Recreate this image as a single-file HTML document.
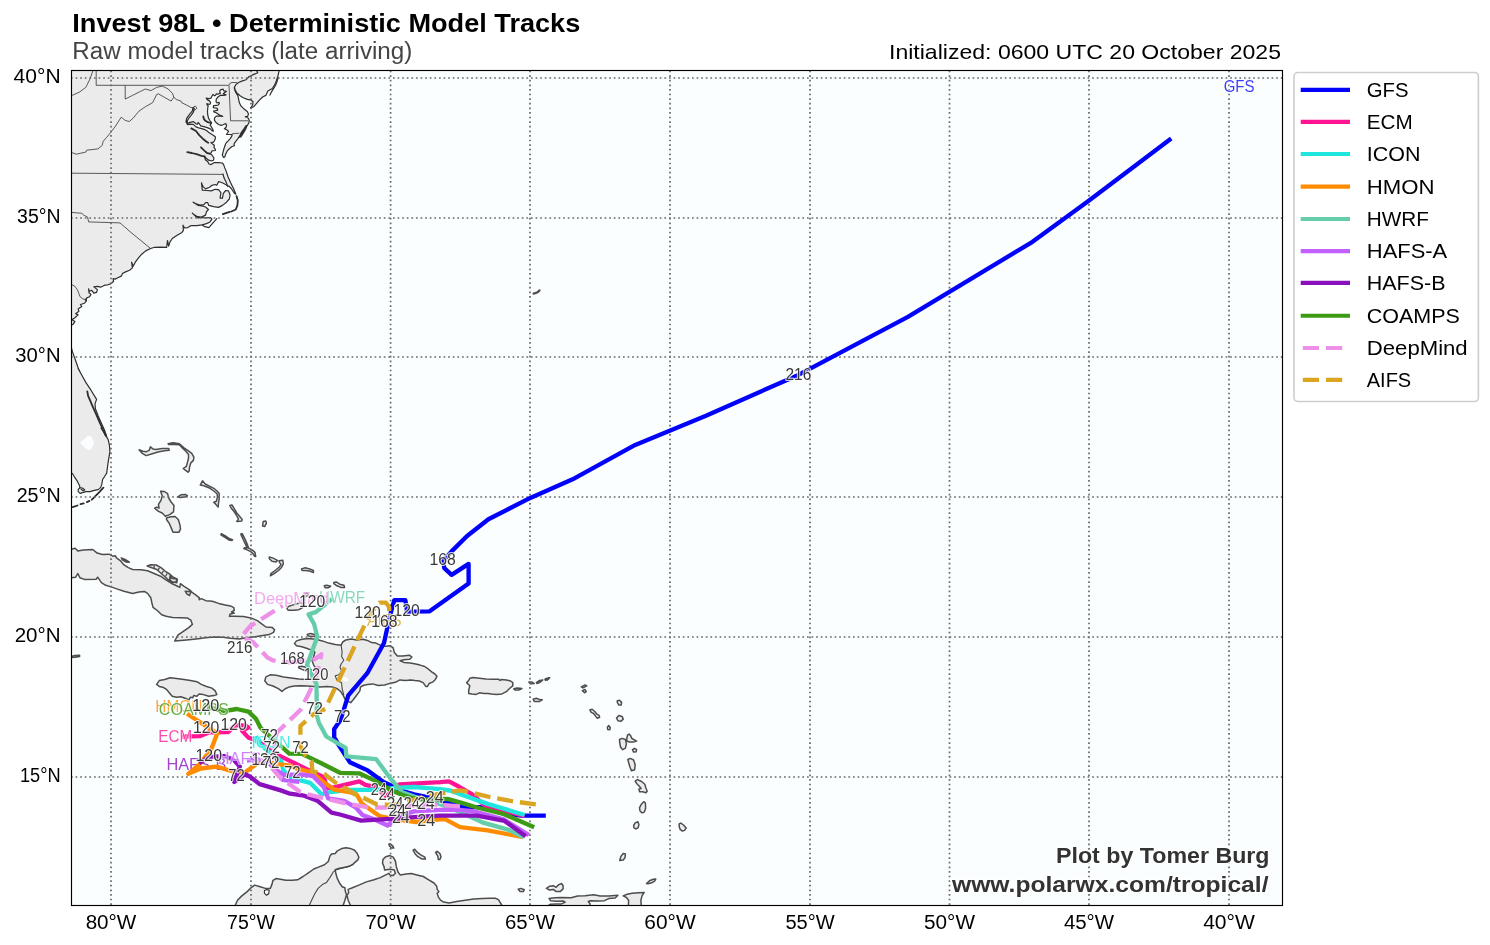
<!DOCTYPE html>
<html lang="en"><head><meta charset="utf-8"><title>Invest 98L - Deterministic Model Tracks</title>
<style>html,body{margin:0;padding:0;background:#fff}svg{display:block}text{font-family:"Liberation Sans", sans-serif}.tk{font-size:19.5px;fill:#000}.lg{font-size:20.5px;fill:#000}.hr{font-size:17px;fill:#383838;stroke:#fff;stroke-opacity:.8;stroke-width:2.2px;paint-order:stroke;stroke-linejoin:round}.ml{font-size:16.5px;fill-opacity:.78;stroke:#fff;stroke-opacity:.6;stroke-width:1.8px;paint-order:stroke;stroke-linejoin:round}.trk{fill:none;stroke-width:4.33;stroke-linejoin:round;stroke-linecap:butt}.trd{fill:none;stroke-width:4.33;stroke-linejoin:round;stroke-linecap:butt;stroke-dasharray:16.05 6.95}.coast{fill:#ebebeb;stroke:#2e2e2e;stroke-width:1.2;stroke-linejoin:round}.isl{fill:#ebebeb;stroke:#4d4d4d;stroke-width:1.5;stroke-linejoin:round}.isll{fill:none;stroke:#4d4d4d;stroke-linecap:round;stroke-linejoin:round}.coastl{fill:none;stroke:#2e2e2e;stroke-width:1.2;stroke-linejoin:round;stroke-linecap:round}.lake{fill:#fbfeff;stroke:#2e2e2e;stroke-width:1.1;stroke-linejoin:round}.lakew{fill:#fbfeff;stroke:none}.st{fill:none;stroke:#333;stroke-width:0.8;stroke-linejoin:round}.ct{fill:none;stroke:#4a4a4a;stroke-width:1.1;stroke-linejoin:round}.grid{stroke:#6a6a6a;stroke-width:1.74;stroke-dasharray:1.736 2.864;fill:none}</style></head><body>
<svg width="1490" height="945" viewBox="0 0 1490 945">
<rect width="1490" height="945" fill="#fff"/>
<defs><clipPath id="c"><rect x="71.5" y="70.5" width="1211.0" height="835.0"/></clipPath></defs>
<text x="72.3" y="31.6" font-size="25px" font-weight="bold" fill="#000" textLength="508" lengthAdjust="spacingAndGlyphs">Invest 98L • Deterministic Model Tracks</text>
<text x="72.3" y="58.8" font-size="23.5px" fill="#444" textLength="340" lengthAdjust="spacingAndGlyphs">Raw model tracks (late arriving)</text>
<text x="889" y="58.6" font-size="21px" fill="#000" textLength="392" lengthAdjust="spacingAndGlyphs">Initialized: 0600 UTC 20 October 2025</text>
<rect x="71.5" y="70.5" width="1211.0" height="835.0" fill="#fbfeff"/>
<g clip-path="url(#c)">
<path class="isl" d="M139.1 449.7 142.3 453.4 146.1 455.6 151.5 454.0 157.9 452.0 164.4 450.7 169.2 450.2 168.7 448.4 162.2 448.6 155.8 449.4 153.1 449.1 150.4 446.7 149.3 450.2 146.1 451.8 142.9 451.3Z M168.1 443.8 173.0 442.7 179.4 443.8 183.7 447.5 188.0 450.7 191.7 453.4 193.9 457.2 193.4 460.4 190.7 463.1 189.6 466.8 189.1 471.1 188.0 472.2 185.3 470.1 183.2 468.5 186.4 466.3 187.4 462.6 188.5 458.3 188.5 454.5 185.8 451.3 182.6 448.1 179.4 444.8 174.0 444.5 168.7 444.5Z M160.6 491.3 164.4 491.5 167.6 493.7 168.7 498.0 171.3 502.3 174.0 505.5 173.5 511.9 169.7 514.6 165.4 516.2 162.2 513.0 158.5 511.4 154.7 508.2 156.8 507.1 159.0 508.2 158.5 504.4 161.1 500.1 162.2 495.8Z M166.5 517.9 170.8 516.8 175.1 516.5 178.3 519.5 179.9 524.8 180.5 529.1 178.9 532.3 173.0 532.3 171.3 528.1 169.2 523.2 166.5 519.5Z M177.8 496.9 181.0 494.8 185.8 494.6 187.4 495.8 184.8 497.1 180.5 497.4Z M200.3 485.1 202.5 480.8 205.2 484.0 209.5 486.2 213.8 488.3 217.0 491.0 219.1 493.2 219.3 498.0 218.6 502.3 218.1 507.1 215.9 504.4 213.8 502.3 216.4 501.2 217.5 496.9 217.0 493.7 213.8 491.0 210.0 488.3 205.2 486.2 203.0 485.6Z M229.9 505.5 232.0 505.0 234.2 508.7 236.8 513.0 239.5 516.2 242.2 519.5 241.7 521.1 236.8 521.4 238.5 518.9 236.3 515.2 233.6 510.9 230.9 507.7Z M263.2 521.6 265.8 521.1 266.4 523.2 264.8 526.4 262.6 525.9Z M221.3 533.7 225.8 536.1 229.6 538.8 232.5 539.8 231.9 540.6 228.8 540.0 225.0 537.4 220.9 534.8Z M241.1 533.7 242.2 533.7 245.0 539.1 247.5 544.9 248.6 548.1 251.8 549.6 255.0 552.4 255.7 556.5 254.6 556.3 252.9 553.5 250.3 551.4 247.1 549.9 243.9 548.6 244.3 547.7 247.1 548.1 246.0 545.3 243.2 539.5 240.9 534.4Z M269.3 557.0 273.1 558.1 277.4 560.3 276.3 561.9 272.0 561.3 269.3 558.7Z M279.0 560.8 282.8 560.3 283.3 564.0 281.7 567.2 278.5 570.5 274.2 573.7 270.4 575.8 270.9 573.7 275.2 570.5 279.0 567.2 281.1 564.6 279.5 562.4Z M301.5 568.9 305.3 567.8 309.6 568.9 313.4 570.5 313.4 572.6 309.6 571.0 305.3 570.5 302.1 570.5Z M287.6 607.0 291.3 605.4 296.7 603.8 301.5 602.7 303.7 604.8 302.6 607.5 298.9 609.7 293.5 610.2 288.1 610.2 287.0 608.6Z M304.8 593.6 307.4 593.0 308.5 595.2 306.4 596.5 304.8 595.2Z M324.2 585.8 326.8 585.2 330.6 586.3 328.5 587.7 325.2 587.7Z M333.8 582.6 336.5 582.0 339.7 584.2 344.0 585.2 344.6 587.4 340.8 587.4 337.0 585.8 333.8 583.6Z M68.1 549.3 71.4 549.3 75.1 548.3 77.8 550.9 83.2 549.9 92.8 549.5 97.1 553.1 102.5 554.5 109.0 554.2 113.2 556.3 115.4 555.8 116.5 557.9 120.2 560.6 124.0 564.9 128.3 567.6 132.6 569.5 141.2 569.7 147.6 570.8 154.1 573.5 160.5 576.2 165.9 579.9 171.2 583.2 176.6 585.8 179.8 587.4 180.4 583.7 184.1 586.4 188.4 589.1 191.1 591.2 189.5 595.5 186.8 593.9 185.2 591.2 191.1 591.7 194.9 594.4 199.2 597.7 198.9 598.1 199.4 599.7 201.5 598.6 205.8 600.7 212.3 601.3 218.7 603.4 225.2 605.0 230.5 605.9 233.8 607.7 234.3 610.4 231.6 612.0 234.3 613.1 230.0 614.2 229.5 616.3 234.8 616.3 243.4 616.6 250.9 617.9 257.4 620.6 261.7 623.8 266.0 627.0 272.4 627.6 274.6 629.7 273.5 632.4 269.2 634.6 262.8 635.6 255.2 636.7 246.6 637.8 239.1 638.9 230.5 638.3 223.0 637.2 214.4 637.0 205.8 637.8 196.2 638.9 186.5 639.9 174.7 641.0 177.9 635.1 183.3 631.3 188.7 627.6 192.4 624.4 190.8 620.1 187.6 618.1 180.1 617.7 172.6 617.4 166.1 616.3 161.6 614.8 157.3 610.5 153.0 607.3 151.9 603.0 150.8 597.7 147.6 593.4 144.4 591.4 139.0 592.1 132.6 593.4 124.0 591.2 117.5 589.1 111.1 586.9 105.7 585.3 101.4 582.6 97.7 577.2 96.1 579.2 84.3 579.4 80.0 577.8 77.8 573.5 75.7 577.2 71.4 577.8 68.1 577.8Z M121.3 557.9 125.1 559.5 129.4 562.2 126.1 562.0 122.4 559.9Z M147.1 566.0 150.8 564.7 156.2 565.0 161.0 567.6 165.3 571.3 169.6 574.0 172.8 576.8 177.4 579.2 176.8 582.8 172.1 582.0 168.6 580.0 165.0 576.8 160.9 573.2 156.8 569.5 151.9 567.8Z M170.0 575.8 172.1 578.5 177.0 579.1 175.9 582.3 172.1 581.7 170.0 580.1Z M156.6 684.4 159.3 680.6 164.7 679.5 170.1 677.7 176.5 678.5 184.0 679.5 190.5 680.6 196.9 681.7 201.2 684.4 206.6 686.5 211.9 688.1 215.2 690.8 216.8 694.6 214.1 695.6 208.7 696.2 203.4 694.6 199.1 694.0 196.9 696.2 193.7 695.6 192.6 697.8 190.5 697.2 188.9 699.9 185.1 698.3 180.8 696.7 176.5 697.2 172.2 696.2 169.5 693.0 166.8 689.7 163.6 687.6 159.3 686.5Z M294.4 643.6 296.5 640.9 301.9 639.3 308.3 638.5 315.8 639.3 322.3 640.9 328.7 643.1 335.2 644.5 341.1 645.2 342.7 642.0 345.9 639.9 351.3 639.1 356.6 639.9 363.1 639.3 367.4 640.4 371.7 642.6 376.0 643.1 380.3 645.2 385.6 646.3 390.5 645.8 393.2 647.9 394.2 652.2 397.4 656.0 402.8 656.0 409.3 655.2 411.9 657.0 409.8 659.2 403.9 659.7 400.1 660.8 403.9 662.4 410.3 663.0 415.7 664.0 420.0 665.1 424.7 666.5 428.5 669.2 431.7 671.9 434.9 674.0 437.0 676.2 435.4 679.4 432.8 682.1 429.5 683.2 427.4 686.4 425.8 686.4 423.1 682.6 419.3 681.0 415.0 680.5 410.7 679.9 405.4 680.5 400.0 679.9 395.3 682.3 389.9 683.4 384.6 685.0 378.1 685.5 372.8 683.9 367.4 684.4 363.1 685.5 360.4 687.1 359.9 690.9 356.6 695.2 353.4 699.5 350.7 702.7 347.5 701.1 344.8 698.9 343.2 695.2 340.5 691.4 337.3 688.7 333.0 687.1 326.6 686.6 320.1 687.1 313.7 686.6 307.2 686.0 300.8 685.7 294.4 686.0 289.0 687.1 285.2 688.7 282.0 691.4 278.3 688.7 272.9 686.0 267.5 684.4 264.8 680.7 265.9 676.9 270.2 674.8 276.1 675.3 283.6 676.9 291.1 678.0 298.7 679.1 306.2 679.6 310.5 679.1 313.7 675.8 318.5 671.5 315.8 668.3 313.7 665.1 312.1 660.8 313.7 656.5 314.8 652.2 312.6 650.6 307.2 648.5 301.9 646.8 296.5 645.8Z M298.7 666.7 301.9 666.2 307.2 667.8 311.5 669.9 310.5 672.1 306.2 671.0 301.9 669.4 298.7 667.8Z M307.2 634.5 310.5 633.4 314.8 634.5 316.4 636.1 312.6 636.6 308.3 636.1Z M466.6 682.6 468.7 680.5 469.8 678.3 473.0 677.6 479.5 678.3 485.9 678.9 493.4 679.2 498.8 679.2 499.9 680.5 501.5 679.4 506.3 679.9 510.6 681.0 512.8 682.6 512.8 685.8 509.5 688.5 506.3 691.7 502.0 693.9 496.6 694.4 491.3 693.9 488.1 693.4 483.8 693.4 479.5 692.8 476.2 694.4 471.9 693.9 468.7 693.4 468.7 690.1 469.8 685.8 468.2 684.2Z M513.8 688.8 517.0 688.0 521.9 688.5 519.2 689.9 514.9 690.1Z M528.9 682.1 532.1 682.1 534.2 683.5 530.5 683.7Z M536.4 682.6 539.6 680.5 542.8 679.9 539.6 682.6 536.9 683.5Z M545.0 679.4 548.7 677.8 547.7 679.4 545.5 680.3Z M533.2 699.3 536.4 698.2 539.6 699.6 542.3 699.8 539.6 701.4 534.2 701.4Z M545.4 678.8 549.7 677.7 547.5 679.9 545.4 679.9Z M581.3 686.8 585.1 684.9 586.7 685.8 583.0 687.9Z M582.4 690.6 585.1 689.5 586.2 691.7 584.6 692.8Z M617.3 700.8 619.5 700.3 621.6 702.4 621.1 705.1 618.9 705.1 617.3 702.4Z M589.9 709.9 592.1 709.2 594.8 711.5 596.9 714.2 599.1 715.3 599.6 717.4 597.4 718.2 595.8 716.4 593.7 713.7 591.0 712.1Z M616.5 718.0 618.9 715.6 622.1 716.4 623.2 719.1 621.1 721.2 617.9 720.7Z M607.4 727.1 608.7 725.5 610.3 727.7 609.8 729.8 607.7 729.6Z M619.5 739.5 622.1 738.4 625.4 739.5 626.4 743.8 625.4 748.1 622.7 749.7 620.5 747.0 619.7 742.7Z M626.4 740.5 627.5 735.2 629.1 734.1 630.7 735.7 631.8 738.4 634.5 740.0 636.6 741.1 633.4 742.1 629.1 742.1Z M632.6 749.7 634.5 748.3 636.6 749.7 636.1 751.8 633.6 752.1Z M627.9 759.5 630.3 758.4 633.6 760.0 635.2 764.9 634.6 769.7 631.4 770.8 629.8 766.5 628.7 762.7Z M635.2 781.0 637.3 779.6 641.6 781.5 644.8 784.2 645.9 788.0 647.2 791.2 645.9 792.8 642.7 791.7 639.5 791.7 638.9 789.0 641.1 788.5 638.9 785.8 636.8 783.7Z M639.5 807.8 641.1 804.6 643.8 801.7 645.4 803.0 645.6 808.4 644.3 812.1 642.1 812.9 640.0 811.0Z M633.6 825.5 635.2 822.9 637.9 821.8 638.9 824.5 638.2 827.7 635.7 829.0 633.9 827.7Z M679.2 823.9 680.8 823.1 683.5 825.0 686.2 827.9 684.6 830.4 682.4 831.1 680.1 829.3 679.2 826.6Z M619.7 860.4 621.1 856.1 623.2 853.5 625.4 854.0 625.0 857.8 623.2 859.9Z M646.5 883.5 649.5 880.8 653.3 879.2 655.8 878.9 654.9 880.8 651.7 882.8 647.9 883.8Z M628.3 909.8 628.6 900.2 626.4 897.5 623.2 895.9 627.0 894.3 632.3 893.2 638.8 892.7 644.2 892.4 642.0 895.9 640.9 900.2 641.5 909.8Z M546.4 888.4 549.7 886.2 553.4 885.7 556.1 887.3 558.8 884.6 561.5 883.5 563.1 885.7 563.1 888.9 560.4 891.4 556.1 891.6 553.4 889.4 549.7 890.0Z M549.1 909.8 549.1 905.0 550.7 904.2 556.1 903.9 561.5 903.9 565.2 902.1 563.1 901.0 557.2 901.2 550.7 900.7 549.1 898.6 555.0 897.8 561.5 897.5 571.1 897.8 577.6 896.1 585.1 895.7 593.7 894.8 600.1 895.9 608.7 896.1 617.9 895.3 615.2 898.0 608.7 898.6 604.4 900.7 598.0 901.0 590.5 900.7 588.3 901.5 589.9 903.4 590.5 909.8Z M413.1 850.2 414.7 849.2 417.4 852.4 421.1 855.1 424.9 857.2 425.4 859.1 422.2 859.1 417.9 856.7 415.2 854.0Z M435.6 852.4 437.2 851.3 439.9 853.5 441.0 856.7 439.9 859.6 438.3 859.4 437.8 856.1Z M390.0 843.8 392.7 845.9 393.8 848.1 391.6 848.1 389.5 845.9 388.9 844.3Z M518.3 889.2 521.0 888.4 524.2 889.8 523.2 891.6 519.9 891.4Z M235.4 909.8 235.4 905.0 237.5 900.2 241.8 895.9 247.2 891.6 251.5 887.3 254.7 885.1 260.1 886.7 265.4 888.4 270.3 888.4 271.9 884.6 273.0 880.3 276.2 878.5 280.5 879.2 285.8 880.3 292.3 880.3 297.7 879.8 303.0 876.5 308.4 872.8 313.8 869.0 319.1 866.9 324.5 864.7 328.3 861.5 329.9 856.1 331.5 854.0 335.2 853.5 337.4 850.8 341.7 848.6 346.0 847.8 350.3 848.4 354.6 850.2 357.2 853.5 358.9 857.2 357.8 859.9 354.6 862.6 352.4 864.7 349.2 866.3 343.8 867.4 338.5 868.5 335.2 869.6 335.8 873.3 337.4 878.7 339.5 883.0 342.2 886.7 344.9 887.8 345.4 891.6 346.5 894.8 344.9 900.2 343.3 905.0 343.3 909.8Z M350.3 909.8 350.3 905.0 348.1 900.2 347.0 895.3 348.7 892.7 348.1 889.4 352.4 887.8 358.9 885.1 366.4 881.9 373.9 879.8 380.3 877.6 385.7 874.9 388.9 873.3 390.0 874.9 393.2 875.5 395.4 873.3 394.3 870.1 390.0 869.2 384.6 870.1 384.1 866.9 382.5 863.1 383.0 859.4 385.7 856.7 390.0 855.6 393.2 857.2 395.4 861.0 396.4 866.9 398.1 872.2 400.2 874.9 406.1 873.9 411.5 873.5 416.8 874.9 423.3 876.5 428.7 879.8 434.0 883.0 436.7 886.2 437.2 889.4 438.9 891.6 437.2 893.2 438.3 896.9 440.5 900.2 443.7 902.1 449.1 902.9 456.6 901.5 465.2 900.2 473.8 898.9 482.3 898.6 489.9 898.2 495.2 898.3 498.5 899.6 500.1 902.3 501.7 905.0 501.7 909.8Z M71.0 656.4 75.0 655.6 79.6 655.2 79.6 656.6 75.0 657.2 71.0 657.6Z"/>
<path class="coast" d="M279.5 68.0 279.1 70.8 277.9 76.1 276.3 80.9 274.7 84.9 272.3 88.5 267.9 91.0 265.8 95.4 262.6 97.0 259.4 100.2 256.6 103.4 253.8 106.7 250.5 108.0 252.6 105.0 253.0 101.8 251.3 100.2 247.3 99.4 243.3 97.8 240.1 95.8 236.8 93.0 235.2 89.7 234.4 87.3 234.4 88.9 235.6 92.2 237.7 95.4 238.5 98.6 239.3 102.6 240.9 105.9 244.1 109.1 247.3 111.5 248.5 113.9 247.7 116.3 245.3 116.7 248.1 117.9 249.3 120.3 248.8 123.2 246.9 126.0 244.9 129.2 242.5 132.4 240.1 135.7 237.7 138.9 235.2 142.1 234.0 144.0 234.4 145.7 232.0 146.5 229.6 148.5 227.2 150.9 225.6 154.2 224.8 157.0 223.6 157.4 222.3 155.0 223.2 151.7 224.0 148.5 225.2 145.3 225.5 144.0 226.5 142.5 228.2 140.8 230.2 138.7 231.5 136.7 232.2 134.7 229.9 134.5 226.5 134.3 227.5 133.0 228.5 131.3 226.5 129.6 224.4 128.6 226.1 127.2 226.5 125.5 225.8 123.5 223.1 124.7 221.1 125.4 218.7 124.5 216.0 122.5 214.4 120.1 214.6 117.8 216.3 116.1 219.7 116.2 222.7 116.4 219.0 114.7 216.3 112.7 214.3 112.1 213.6 111.1 215.6 110.7 217.7 110.1 217.3 108.4 215.0 108.0 213.3 107.7 213.6 105.7 216.3 105.3 218.3 105.0 219.4 103.3 219.0 102.4 217.0 103.0 216.0 101.6 216.3 99.2 218.0 96.9 220.4 95.2 223.8 95.3 226.1 94.8 223.1 93.8 224.8 92.5 226.5 91.3 223.8 90.8 223.1 89.2 220.4 89.8 219.7 91.8 220.4 93.1 217.7 94.2 216.3 93.8 215.6 95.2 214.6 95.8 212.9 94.5 211.9 96.2 210.9 98.2 208.9 98.6 206.2 98.2 207.5 99.9 209.5 100.9 210.6 102.6 210.2 104.0 208.9 104.3 206.8 103.6 207.2 105.0 208.2 105.7 207.8 107.7 207.5 111.1 207.6 113.0 207.7 114.7 208.5 118.1 209.9 120.5 211.6 122.8 210.2 124.9 211.6 127.2 212.9 129.6 213.3 131.3 211.9 130.6 210.2 128.9 207.2 127.6 203.8 126.6 200.7 125.9 199.0 123.2 198.0 122.5 197.7 124.2 196.0 123.8 193.5 121.6 190.1 122.4 187.9 123.2 187.1 121.3 188.4 118.7 191.1 115.4 193.5 111.9 194.2 108.3 193.4 107.5 192.9 107.9 192.4 110.8 189.7 114.1 186.8 118.1 185.9 121.8 187.6 124.6 190.3 124.2 193.4 124.4 196.0 126.9 198.7 127.9 201.8 128.6 204.8 129.6 207.2 131.0 208.9 132.6 211.2 134.0 213.6 135.4 215.3 136.7 215.3 138.7 214.4 140.8 213.6 142.1 210.9 142.5 212.7 144.1 214.3 145.3 213.9 147.3 215.1 148.9 215.5 150.5 211.9 150.9 211.1 153.0 209.5 153.5 211.9 155.0 213.9 157.8 213.5 160.2 211.5 161.0 208.7 160.2 206.2 158.2 204.6 156.3 204.6 157.4 205.4 159.8 207.9 161.8 208.7 163.8 211.1 164.6 214.3 162.6 218.3 162.6 222.3 163.0 223.6 164.6 224.8 167.9 226.4 171.9 228.0 176.7 230.4 182.3 233.6 188.8 235.6 193.6 235.8 194.2 234.2 193.0 231.3 188.5 228.9 186.1 227.7 186.1 225.7 184.5 221.7 182.5 218.5 181.7 216.8 185.3 215.2 184.5 212.0 185.3 209.6 187.3 205.6 188.9 203.2 186.9 201.5 182.9 202.3 190.1 206.4 190.5 211.2 190.9 215.2 189.3 218.5 189.7 220.9 192.6 220.1 198.2 222.5 198.2 223.3 193.4 225.7 190.5 228.5 190.9 230.1 195.0 229.3 199.0 226.5 202.2 222.5 205.4 218.5 207.4 213.6 206.6 208.8 205.4 207.6 202.6 205.6 202.6 204.0 204.6 199.9 205.0 196.3 203.8 193.1 202.2 198.3 205.4 203.2 206.2 205.6 207.0 208.4 209.5 206.4 211.9 205.6 215.1 201.5 217.1 197.5 216.7 194.3 214.7 192.3 213.1 195.9 216.7 198.3 217.9 201.5 217.5 206.4 217.9 210.4 217.5 212.0 219.1 209.6 222.3 206.4 223.6 202.3 224.8 196.7 225.6 191.1 225.6 187.9 227.6 184.6 228.0 183.0 225.2 183.4 230.4 182.0 232.4 177.1 235.2 172.3 238.5 169.9 242.1 168.7 246.1 167.5 240.5 166.7 247.3 161.0 247.1 154.6 247.3 150.6 248.5 145.7 250.9 141.7 254.2 138.5 257.8 135.3 262.2 133.2 266.2 131.6 262.2 132.4 267.9 129.6 270.3 125.6 271.9 122.4 273.5 121.6 275.9 118.3 277.5 115.1 279.1 113.1 278.7 113.5 281.5 111.1 283.6 107.9 284.8 104.7 285.2 100.6 287.2 97.4 286.4 93.8 286.8 97.4 289.6 96.6 292.4 93.8 293.2 91.8 290.4 89.4 291.2 88.6 288.8 89.0 292.8 91.0 294.4 89.4 296.8 86.5 298.1 85.3 300.1 86.1 298.4 86.5 300.8 84.5 303.2 80.5 304.5 81.7 306.5 78.1 308.9 78.9 311.3 75.7 313.7 78.1 314.9 74.9 317.7 72.0 319.8 74.9 321.6 73.2 324.2 70.8 325.4 67.6 325.4 67.6 347.5 71.3 347.5 72.4 351.6 74.1 356.4 76.1 362.0 78.1 367.7 80.1 372.0 78.1 368.4 82.1 375.7 86.1 382.9 91.0 390.2 96.6 399.4 95.0 403.9 95.4 408.7 98.2 416.0 101.4 423.2 104.7 430.5 107.1 438.0 103.9 432.0 106.3 436.1 108.3 440.1 109.5 445.7 109.9 452.2 108.7 458.6 107.9 464.2 107.1 469.9 106.7 473.1 104.7 476.3 102.6 479.5 101.8 484.4 100.6 487.6 98.2 489.6 94.2 490.4 90.2 491.6 86.1 491.6 83.3 492.4 80.1 493.4 78.2 491.6 78.2 489.4 79.9 487.8 79.7 486.0 77.3 481.2 74.1 476.3 72.4 473.5 71.3 473.1 67.6 473.1 40.0 480.0 40.0 40.0 279.0 40.0Z"/>
<path class="lakew" d="M80.5 442.5 87.7 435.7 91.0 436.1 93.8 441.7 93.4 444.9 90.6 449.7 87.7 449.7 84.5 447.3 80.5 443.3Z M342.7 677.4 345.9 676.9 348.6 679.1 347.5 681.2 344.3 681.2 342.7 679.6Z"/>
<path class="lake" d="M264.4 890.5 267.0 889.4 269.2 890.5 268.7 893.7 266.5 895.3 264.4 893.2Z"/>
<path class="st" d="M93.0 70.5 89.8 79.3 85.8 87.4 79.3 92.2 72.1 95.4 M96.2 69.7 96.2 85.3 228.8 85.3 M125.2 85.3 125.2 99.1 132.5 95.4 140.5 91.4 145.4 89.0 151.0 90.6 156.6 87.4 162.3 86.1 168.2 89.0 172.8 93.8 173.7 97.4 175.3 98.3 176.3 99.6 178.9 100.3 181.1 101.2 181.8 102.8 184.0 103.8 187.2 105.4 190.8 107.4 192.9 107.8 195.3 105.9 196.9 108.3 194.5 110.3 192.9 107.8 M173.7 97.4 171.1 101.1 158.3 93.8 156.6 94.6 152.6 102.7 145.4 106.7 138.9 111.2 133.3 118.0 129.3 121.5 125.2 120.4 121.2 117.2 115.6 126.0 110.7 132.5 106.7 137.3 103.2 141.3 102.2 145.4 97.9 148.9 86.6 150.2 85.8 152.1 76.1 154.2 72.1 152.6 M71.3 173.2 223.5 174.4 M229.0 85.1 230.0 83.3 232.0 82.5 236.8 82.5 M229.0 85.3 230.6 120.8 248.5 120.8 M232.2 133.7 239.3 133.2 M71.4 212.4 81.9 213.3 83.8 215.2 87.6 217.1 88.6 221.9 120.0 222.9 128.0 229.8 128.0 230.0 150.6 248.5 M70.8 284.0 74.9 286.4 77.3 289.6 78.9 293.6 80.1 296.8 82.9 298.9 85.3 299.7"/>
<path class="ct" d="M341.1 645.2 342.1 652.2 341.6 656.5 343.8 660.3 341.1 664.0 340.0 667.2 341.6 671.0 338.9 674.8 335.2 675.8 336.8 680.1 341.6 682.8 342.1 688.7 343.8 695.2 M309.5 905.0 311.6 900.2 314.8 893.7 318.1 888.4 322.3 884.6 326.6 882.4 329.9 877.6 333.1 872.2 335.8 869.9 341.7 868.2 348.1 866.7 353.5 864.3"/>
<path class="coastl" d="M234.4 87.3 236.0 84.5 238.5 82.5 242.5 80.9 246.1 79.7 249.3 76.5 253.8 74.4 257.8 72.8 256.6 70.8 256.3 68.0 M278.2 77.3 277.1 81.3 275.6 85.3 273.4 88.9 271.2 92.3 270.0 95.1 M246.9 125.6 245.7 129.2 243.3 133.2 240.9 136.9 239.4 137.1 240.9 133.2 243.7 129.2 246.1 125.6 M244.9 130.0 242.5 134.0 240.1 137.2 239.3 136.8 241.7 133.2 243.7 130.0 M222.9 174.0 224.1 178.1 226.1 182.1 227.7 186.1 M216.8 218.7 212.8 223.2 208.8 227.6 204.0 226.4 202.3 224.8 M79.9 487.8 82.5 488.0 84.7 489.9 83.3 490.7 81.3 489.4"/>
<path class="coastl" style="stroke-width:1.8" d="M203.3 116.4 203.8 118.8 205.5 120.8 207.8 122.2 210.9 123.0 M191.3 128.4 196.0 131.0 199.4 135.4 202.8 138.7 206.2 141.5 208.2 142.8 M201.0 147.3 203.8 150.1 207.0 153.0 209.5 153.6 M187.3 152.1 191.7 153.0 196.6 154.2 201.4 155.8 204.6 156.4 M236.6 196.2 237.8 200.6 237.4 205.4 235.8 209.5 231.3 211.5 M229.7 211.9 222.9 214.1 M87.3 391.4 88.1 395.8 90.2 400.7 92.6 406.3 95.8 413.5 99.0 420.8 102.2 428.0 105.5 435.3 M101.4 428.0 103.9 432.0 105.9 435.7 M103.4 487.6 99.8 491.6 96.6 494.8 93.4 498.1 91.8 499.7 M89.4 500.9 86.9 502.1 M83.7 503.3 80.5 504.2 M77.6 505.5 72.6 507.1"/>
<path class="isll" style="stroke-width:2.2" d="M533.6 293.6 536.5 292.8 538.5 291.5 539.6 290.3"/>
<path class="isll" style="stroke-width:1.3" d="M154.3 566.3 153.8 568.0 M159.2 568.1 158.1 570.1 M163.2 571.3 161.9 573.1 M166.9 574.0 165.7 576.0 M170.7 576.8 169.6 579.0"/>
<path class="grid" d="M111.0 904.97V70.5"/>
<path class="grid" d="M251.0 904.97V70.5"/>
<path class="grid" d="M390.6 904.97V70.5"/>
<path class="grid" d="M530.0 904.97V70.5"/>
<path class="grid" d="M670.0 904.97V70.5"/>
<path class="grid" d="M810.0 904.97V70.5"/>
<path class="grid" d="M949.5 904.97V70.5"/>
<path class="grid" d="M1089.0 904.97V70.5"/>
<path class="grid" d="M1229.0 904.97V70.5"/>
<path class="grid" d="M70.96 777.0H1282.5"/>
<path class="grid" d="M70.96 637.0H1282.5"/>
<path class="grid" d="M70.96 497.0H1282.5"/>
<path class="grid" d="M70.96 357.0H1282.5"/>
<path class="grid" d="M70.96 218.0H1282.5"/>
<path class="grid" d="M70.96 78.0H1282.5"/>
<g class="ml">
<text x="166.4" y="769.6" fill="#8a10be" textLength="60.0" lengthAdjust="spacingAndGlyphs">HAFS-B</text>
</g>
<path class="trk" stroke="#0202fa" d="M545.8 815.6 521.5 815.6 503.5 813.4 480.0 807.1 461.7 806.9 445.8 802.4 430.0 797.6 414.1 794.4 403.5 791.3 393.3 786.5 383.5 782.0 367.7 770.4 349.8 762.2 340.0 747.0 334.2 737.5 334.2 729.0 340.5 720.0 348.3 695.4 367.3 673.2 384.0 643.0 389.5 617.6 394.3 600.2 405.4 600.2 407.0 611.6 429.6 611.3 468.6 583.4 468.6 563.9 451.6 574.9 444.3 568.2 443.2 560.6 451.6 551.4 466.8 536.2 488.4 519.3 530.3 497.9 572.6 479.3 635.2 444.9 706.0 415.7 798.4 374.9 907.9 316.9 1032.5 241.8 1088.4 200.9 1171.2 138.4"/>
<path class="trk" stroke="#ff1493" d="M524.7 816.0 485.5 806.2 472.3 794.4 459.6 787.0 449.0 781.4 440.0 782.2 399.3 784.4 390.8 792.3 385.6 795.7 374.7 786.9 365.4 784.8 359.3 781.3 334.0 787.3 327.0 788.0 323.9 777.2 308.8 770.1 280.7 756.4 270.0 750.0 262.0 744.0 254.8 739.7 248.4 737.6 242.1 730.7 248.4 727.6 245.2 725.4 234.7 725.4 228.3 732.0 209.3 732.3 199.7 736.2 181.7 736.6"/>
<path class="trk" stroke="#1ee6dc" d="M524.7 815.0 487.6 803.9 449.8 790.5 440.0 789.1 414.1 787.0 399.3 787.6 374.0 789.8 350.0 789.8 330.6 792.0 321.6 794.3 310.0 782.8 300.5 780.3 290.5 777.8 283.4 770.1 281.3 761.2 262.7 746.7 256.2 741.0 254.6 738.6 257.4 737.8 259.6 741.0 257.0 743.6"/>
<path class="trk" stroke="#ff8c00" d="M523.6 837.2 487.6 830.4 460.0 827.2 445.5 819.3 440.0 819.3 429.9 820.4 416.2 822.0 403.5 820.4 390.5 818.3 379.5 816.0 362.1 803.8 356.9 795.0 351.0 792.4 334.0 789.5 323.9 782.3 314.6 774.6 308.8 771.5 297.1 768.7 288.2 765.3 277.2 764.2 266.4 762.0 257.9 763.0 245.2 772.3 234.7 772.0 216.7 766.7 200.8 768.5 188.3 773.8 199.7 764.1 211.4 748.7 217.2 733.4 187.0 713.8"/>
<path class="trk" stroke="#66cdaa" d="M523.6 837.2 508.8 829.8 482.3 822.4 461.4 812.6 441.0 804.5 414.1 796.6 402.4 792.3 390.5 778.5 376.2 759.2 346.3 756.3 345.6 747.8 326.3 736.5 318.9 722.7 316.8 715.0 316.5 684.3 307.0 665.2 317.3 636.7 314.1 624.0 308.6 614.4 315.7 612.1 332.4 598.6"/>
<path class="trk" stroke="#c25fff" d="M528.9 835.1 503.5 819.3 475.0 811.5 459.6 809.8 440.0 809.9 414.1 811.4 399.3 815.6 387.5 825.5 374.7 819.5 362.5 815.0 356.0 807.7 344.2 800.9 328.1 798.3 323.9 787.3 312.9 775.9 301.0 774.5 284.0 774.9 277.2 770.8 269.6 763.9 257.9 759.1 246.9 760.5"/>
<path class="trk" stroke="#c25fff" d="M299.2 781.8 290.0 780.8 281.3 779.7"/>
<path class="trk" stroke="#8a10be" d="M525.7 836.2 504.6 820.9 477.0 815.6 440.0 815.6 414.1 817.2 389.7 818.8 361.1 820.6 340.0 814.5 331.5 812.7 317.4 800.6 304.1 795.7 290.0 793.7 280.8 790.4 259.6 784.1 250.1 776.7 245.2 774.3 234.1 781.9 239.9 766.4 233.6 759.8 224.1 756.1 209.3 756.9 199.2 763.0"/>
<path class="trk" stroke="#3c9a14" d="M534.2 827.2 503.5 814.0 477.0 807.5 461.7 802.9 447.5 798.8 424.7 799.7 414.1 798.7 402.0 794.8 390.8 790.2 374.8 780.6 359.2 773.3 340.0 772.8 321.3 763.2 301.9 753.9 289.3 753.6 280.8 746.0 272.3 738.6 260.7 728.0 255.8 718.6 248.4 711.7 236.8 709.0 224.1 711.2 217.7 709.6 207.1 706.9"/>
<path class="trd" stroke="#ee90e8" d="M460.0 806.3 444.5 805.2 420.0 805.0 389.7 807.7 376.0 807.5 367.5 807.2 345.0 803.2 322.6 797.8 308.2 794.5 300.4 792.0 289.0 784.0 281.3 779.0 273.0 769.4 272.0 760.0 276.6 732.8 290.0 720.0 300.6 709.7 310.5 690.0 317.5 671.6 321.4 654.2 314.7 659.3 304.8 660.7 292.0 662.3"/>
<path class="trd" stroke="#ee90e8" stroke-dashoffset="6.4" d="M292.0 662.3 280.8 662.0 272.3 660.1 267.3 657.4 253.2 642.2 241.6 636.3 250.0 626.3 282.5 605.7"/>
<path class="trd" stroke="#daa520" d="M535.8 804.4 513.0 801.3 489.7 797.0 468.0 791.7 460.0 790.4 451.6 791.7 445.8 792.9 424.7 796.6 408.8 800.8 392.9 805.0 377.0 804.5 355.5 794.0 343.3 787.2 336.1 783.1 324.7 774.2 316.2 772.1 312.4 771.7 311.6 761.1 305.2 754.7 300.4 746.0 300.4 725.9 313.6 714.2 325.2 708.9 364.4 625.5 368.8 615.5"/>
<path class="trd" stroke="#daa520" stroke-dashoffset="6.5" d="M368.8 615.5 379.5 602.7 385.9 602.7 389.1 607.0 389.3 612.6"/>
<g class="ml">
<text x="1223.7" y="91.9" fill="#0202fa" textLength="30.8" lengthAdjust="spacingAndGlyphs">GFS</text>
<text x="155.3" y="711.9" fill="#ff8c00" textLength="47.0" lengthAdjust="spacingAndGlyphs">HMON</text>
<text x="158.8" y="714.6" fill="#3c9a14" textLength="70.0" lengthAdjust="spacingAndGlyphs">COAMPS</text>
<text x="158.3" y="741.9" fill="#ff1493" textLength="33.8" lengthAdjust="spacingAndGlyphs">ECM</text>
<text x="217.7" y="763.5" fill="#c25fff" textLength="60.0" lengthAdjust="spacingAndGlyphs">HAFS-A</text>
<text x="251.6" y="747.7" fill="#1ee6dc" textLength="39.0" lengthAdjust="spacingAndGlyphs">ICON</text>
<text x="319.0" y="602.5" fill="#66cdaa" textLength="46.3" lengthAdjust="spacingAndGlyphs">HWRF</text>
<text x="254.0" y="603.7" fill="#ee90e8" textLength="75.0" lengthAdjust="spacingAndGlyphs">DeepMind</text>
<text x="367.1" y="626.1" fill="#daa520" textLength="34.4" lengthAdjust="spacingAndGlyphs">AIFS</text>
</g>
<g class="hr">
<text x="785.5" y="379.8" textLength="25.8" lengthAdjust="spacingAndGlyphs">216</text>
<text x="429.6" y="565.4" textLength="26.3" lengthAdjust="spacingAndGlyphs">168</text>
<text x="299.0" y="607.1" textLength="26.2" lengthAdjust="spacingAndGlyphs">120</text>
<text x="354.6" y="618.2" textLength="26.2" lengthAdjust="spacingAndGlyphs">120</text>
<text x="393.5" y="615.8" textLength="26.2" lengthAdjust="spacingAndGlyphs">120</text>
<text x="371.3" y="626.9" textLength="26.2" lengthAdjust="spacingAndGlyphs">168</text>
<text x="280.0" y="664.3" textLength="24.6" lengthAdjust="spacingAndGlyphs">168</text>
<text x="303.8" y="680.1" textLength="24.6" lengthAdjust="spacingAndGlyphs">120</text>
<text x="306.2" y="713.5" textLength="16.7" lengthAdjust="spacingAndGlyphs">72</text>
<text x="334.0" y="721.6" textLength="16.6" lengthAdjust="spacingAndGlyphs">72</text>
<text x="227.0" y="653.1" textLength="25.4" lengthAdjust="spacingAndGlyphs">216</text>
<text x="192.3" y="710.7" textLength="27.0" lengthAdjust="spacingAndGlyphs">120</text>
<text x="192.9" y="732.9" textLength="26.4" lengthAdjust="spacingAndGlyphs">120</text>
<text x="220.4" y="730.3" textLength="26.4" lengthAdjust="spacingAndGlyphs">120</text>
<text x="195.5" y="761.0" textLength="26.5" lengthAdjust="spacingAndGlyphs">120</text>
<text x="228.3" y="780.6" textLength="16.4" lengthAdjust="spacingAndGlyphs">72</text>
<text x="261.1" y="740.9" textLength="16.9" lengthAdjust="spacingAndGlyphs">72</text>
<text x="263.6" y="753.1" textLength="16.4" lengthAdjust="spacingAndGlyphs">72</text>
<text x="251.6" y="764.6" textLength="25.6" lengthAdjust="spacingAndGlyphs">120</text>
<text x="262.5" y="767.9" textLength="17.0" lengthAdjust="spacingAndGlyphs">72</text>
<text x="284.0" y="778.1" textLength="16.6" lengthAdjust="spacingAndGlyphs">72</text>
<text x="292.3" y="753.4" textLength="16.5" lengthAdjust="spacingAndGlyphs">72</text>
<text x="370.7" y="795.0" textLength="16.2" lengthAdjust="spacingAndGlyphs">24</text>
<text x="378.6" y="800.3" textLength="16.4" lengthAdjust="spacingAndGlyphs">24</text>
<text x="387.1" y="808.8" textLength="16.4" lengthAdjust="spacingAndGlyphs">24</text>
<text x="403.5" y="808.8" textLength="16.4" lengthAdjust="spacingAndGlyphs">24</text>
<text x="417.2" y="808.8" textLength="17.5" lengthAdjust="spacingAndGlyphs">24</text>
<text x="425.7" y="803.0" textLength="18.0" lengthAdjust="spacingAndGlyphs">24</text>
<text x="391.9" y="822.6" textLength="17.9" lengthAdjust="spacingAndGlyphs">24</text>
<text x="417.2" y="825.7" textLength="18.0" lengthAdjust="spacingAndGlyphs">24</text>
<text x="388.5" y="816.2" textLength="17.5" lengthAdjust="spacingAndGlyphs">24</text>
</g>
</g>
<g font-weight="bold" font-size="21.5px" fill="#333" stroke="#fff" stroke-width="3" paint-order="stroke" stroke-linejoin="round" text-anchor="end">
<text x="1269.5" y="863" textLength="213.5" lengthAdjust="spacingAndGlyphs">Plot by Tomer Burg</text>
<text x="1268.5" y="891.5" textLength="316.5" lengthAdjust="spacingAndGlyphs">www.polarwx.com/tropical/</text></g>
<rect x="71.5" y="70.5" width="1211.0" height="835.0" fill="none" stroke="#000" stroke-width="1.15"/>
<text class="tk" x="60.6" y="782.3" text-anchor="end" textLength="40.7" lengthAdjust="spacingAndGlyphs">15°N</text>
<text class="tk" x="60.6" y="642.3" text-anchor="end" textLength="45.9" lengthAdjust="spacingAndGlyphs">20°N</text>
<text class="tk" x="60.6" y="502.3" text-anchor="end" textLength="43.9" lengthAdjust="spacingAndGlyphs">25°N</text>
<text class="tk" x="60.6" y="362.3" text-anchor="end" textLength="45.3" lengthAdjust="spacingAndGlyphs">30°N</text>
<text class="tk" x="60.6" y="223.3" text-anchor="end" textLength="43.5" lengthAdjust="spacingAndGlyphs">35°N</text>
<text class="tk" x="60.6" y="83.3" text-anchor="end" textLength="47.0" lengthAdjust="spacingAndGlyphs">40°N</text>
<text class="tk" x="111.0" y="928.6" text-anchor="middle" textLength="50.7" lengthAdjust="spacingAndGlyphs">80°W</text>
<text class="tk" x="251.0" y="928.6" text-anchor="middle" textLength="47.9" lengthAdjust="spacingAndGlyphs">75°W</text>
<text class="tk" x="390.6" y="928.6" text-anchor="middle" textLength="50.2" lengthAdjust="spacingAndGlyphs">70°W</text>
<text class="tk" x="530.0" y="928.6" text-anchor="middle" textLength="50.1" lengthAdjust="spacingAndGlyphs">65°W</text>
<text class="tk" x="670.0" y="928.6" text-anchor="middle" textLength="51.3" lengthAdjust="spacingAndGlyphs">60°W</text>
<text class="tk" x="810.0" y="928.6" text-anchor="middle" textLength="49.2" lengthAdjust="spacingAndGlyphs">55°W</text>
<text class="tk" x="949.5" y="928.6" text-anchor="middle" textLength="50.9" lengthAdjust="spacingAndGlyphs">50°W</text>
<text class="tk" x="1089.0" y="928.6" text-anchor="middle" textLength="50.2" lengthAdjust="spacingAndGlyphs">45°W</text>
<text class="tk" x="1229.0" y="928.6" text-anchor="middle" textLength="51.7" lengthAdjust="spacingAndGlyphs">40°W</text>
<rect x="1294" y="72.5" width="184.4" height="329" rx="4" fill="#fff" stroke="#cdcdcd" stroke-width="1.6"/>
<path d="M1300.7 89.9H1350" stroke="#0202fa" stroke-width="4.1" fill="none"/>
<text class="lg" x="1366.8" y="97.2" textLength="41.7" lengthAdjust="spacingAndGlyphs">GFS</text>
<path d="M1300.7 121.9H1350" stroke="#ff1493" stroke-width="4.1" fill="none"/>
<text class="lg" x="1366.8" y="129.2" textLength="45.9" lengthAdjust="spacingAndGlyphs">ECM</text>
<path d="M1300.7 154.0H1350" stroke="#1ee6dc" stroke-width="4.1" fill="none"/>
<text class="lg" x="1366.8" y="161.3" textLength="53.7" lengthAdjust="spacingAndGlyphs">ICON</text>
<path d="M1300.7 186.6H1350" stroke="#ff8c00" stroke-width="4.1" fill="none"/>
<text class="lg" x="1366.8" y="193.9" textLength="67.7" lengthAdjust="spacingAndGlyphs">HMON</text>
<path d="M1300.7 219.0H1350" stroke="#66cdaa" stroke-width="4.1" fill="none"/>
<text class="lg" x="1366.8" y="226.3" textLength="62.2" lengthAdjust="spacingAndGlyphs">HWRF</text>
<path d="M1300.7 251.1H1350" stroke="#c25fff" stroke-width="4.1" fill="none"/>
<text class="lg" x="1366.8" y="258.4" textLength="80.4" lengthAdjust="spacingAndGlyphs">HAFS-A</text>
<path d="M1300.7 282.9H1350" stroke="#8a10be" stroke-width="4.1" fill="none"/>
<text class="lg" x="1366.8" y="290.2" textLength="78.7" lengthAdjust="spacingAndGlyphs">HAFS-B</text>
<path d="M1300.7 315.8H1350" stroke="#3c9a14" stroke-width="4.1" fill="none"/>
<text class="lg" x="1366.8" y="323.1" textLength="93.1" lengthAdjust="spacingAndGlyphs">COAMPS</text>
<path d="M1302.8 348.0H1348" stroke="#ee90e8" stroke-width="4.1" stroke-dasharray="16.2 7" fill="none"/>
<text class="lg" x="1366.8" y="355.3" textLength="100.9" lengthAdjust="spacingAndGlyphs">DeepMind</text>
<path d="M1302.8 379.9H1348" stroke="#daa520" stroke-width="4.1" stroke-dasharray="16.2 7" fill="none"/>
<text class="lg" x="1366.8" y="387.2" textLength="44.4" lengthAdjust="spacingAndGlyphs">AIFS</text>
</svg></body></html>
